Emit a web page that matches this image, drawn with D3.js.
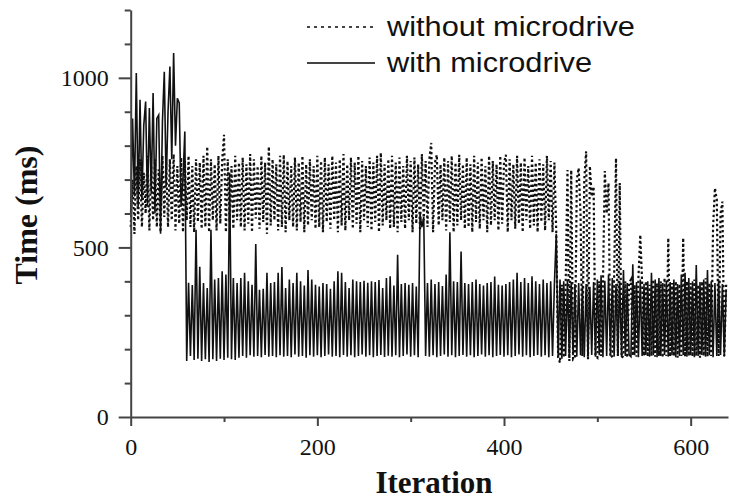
<!DOCTYPE html>
<html>
<head>
<meta charset="utf-8">
<script src="https://cdn.jsdelivr.net/npm/d3@7"></script>
<style>
  body { margin: 0; background: #fff; }
</style>
</head>
<body>
<svg id="chart" width="730" height="501"></svg>
<script>
// one value every 2 iterations (iteration = index * iterStep)
const iterStep = 2;

const withMicrodrive = [
  600, 880, 650, 1014, 620, 935, 640, 860, 930, 620, 911, 660, 955, 600, 880, 890, 540, 870, 1018, 680,
  900, 1033, 760, 1073, 800, 940, 926, 620, 700, 842, 165, 396, 180, 389, 168, 552, 172, 443, 165, 395,
  170, 380, 162, 552, 170, 405, 165, 410, 172, 430, 168, 420, 175, 720, 170, 410, 168, 395, 175, 410,
  180, 425, 175, 400, 182, 390, 178, 510, 180, 375, 176, 378, 183, 425, 178, 395, 180, 398, 176, 425,
  182, 442, 178, 380, 180, 405, 176, 395, 184, 425, 178, 400, 180, 388, 175, 433, 182, 405, 178, 390,
  182, 385, 176, 395, 180, 392, 184, 378, 178, 400, 180, 430, 176, 425, 183, 398, 178, 380, 182, 405,
  176, 400, 180, 398, 184, 402, 178, 396, 182, 400, 176, 398, 180, 404, 183, 380, 177, 410, 181, 415,
  178, 388, 182, 478, 176, 392, 180, 395, 184, 390, 178, 395, 182, 385, 176, 600, 560, 590, 180, 395,
  178, 405, 182, 392, 176, 398, 180, 386, 184, 420, 178, 545, 182, 400, 176, 398, 180, 488, 183, 395,
  178, 392, 182, 398, 176, 405, 180, 392, 184, 388, 178, 395, 182, 398, 176, 414, 180, 390, 183, 388,
  178, 392, 182, 398, 176, 405, 180, 425, 184, 398, 178, 410, 182, 395, 176, 415, 180, 400, 183, 392,
  178, 405, 182, 395, 176, 400, 180, 392, 540, 178, 405, 172, 400, 180, 405, 176, 398, 182, 392, 178,
  395, 182, 388, 176, 392, 180, 384, 183, 398, 178, 405, 182, 418, 176, 402, 180, 420, 183, 410, 178,
  392, 182, 400, 176, 433, 180, 395, 183, 178, 450, 182, 398, 176, 405, 180, 392, 183, 400, 178, 425,
  182, 405, 176, 410, 180, 395, 183, 402, 178, 398, 182, 405, 176, 392, 180, 420, 183, 425, 178, 410,
  182, 400, 176, 448, 180, 398, 183, 405, 178, 433, 182, 400, 176, 395, 180, 405, 183, 392, 178, 375
];

const withoutMicrodrive = [
  560, 700, 540, 740, 580, 760, 560, 720, 600, 770, 550, 740, 580, 760, 560, 730, 545, 770, 590, 750,
  560, 760, 580, 775, 550, 740, 570, 765, 545, 755, 580, 770, 560, 740, 545, 760, 575, 750, 555, 770,
  560, 797, 545, 760, 580, 745, 550, 770, 570, 755, 832, 545, 760, 575, 740, 555, 770, 580, 750, 560,
  765, 550, 745, 570, 775, 545, 760, 585, 740, 555, 770, 575, 750, 540, 797, 565, 760, 580, 745, 550,
  770, 560, 773, 545, 755, 580, 740, 560, 765, 550, 750, 575, 770, 545, 745, 565, 760, 580, 740, 555,
  770, 560, 755, 545, 765, 575, 745, 555, 770, 580, 750, 545, 760, 565, 775, 550, 745, 580, 765, 555,
  750, 570, 770, 545, 755, 580, 740, 560, 765, 550, 750, 575, 770, 545, 779, 565, 745, 580, 760, 555,
  770, 560, 750, 545, 765, 575, 740, 555, 770, 580, 755, 545, 765, 570, 745, 550, 775, 580, 755, 560,
  760, 808, 545, 750, 773, 565, 745, 580, 765, 550, 755, 575, 770, 545, 750, 565, 773, 580, 745, 555,
  765, 560, 745, 545, 770, 575, 750, 555, 765, 580, 740, 545, 770, 565, 755, 580, 745, 550, 770, 570,
  750, 773, 545, 760, 580, 745, 555, 770, 570, 750, 545, 765, 580, 740, 555, 770, 565, 750, 545, 760,
  575, 745, 550, 770, 580, 755, 545, 750, 540, 175, 160, 390, 175, 380, 728, 165, 728, 170, 175, 700,
  734, 600, 180, 700, 783, 170, 740, 650, 679, 180, 175, 400, 180, 395, 725, 600, 690, 175, 180, 410,
  763, 180, 690, 175, 180, 400, 175, 395, 405, 180, 390, 178, 410, 537, 395, 180, 400, 178, 390, 180,
  405, 178, 395, 180, 400, 175, 410, 180, 528, 178, 395, 180, 400, 175, 392, 180, 528, 178, 400, 180,
  395, 178, 405, 180, 390, 175, 400, 180, 410, 178, 395, 180, 560, 675, 640, 180, 600, 635, 180, 390
];

const xTicks = [0, 200, 400, 600];
const xMinorTicks = [100, 300, 500];
const yTicks = [0, 500, 1000];
const yMinorTicks = [100, 200, 300, 400, 600, 700, 800, 900, 1100, 1200];
const legendLabels = ["without microdrive", "with microdrive"];

const svg = d3.select("#chart");

const x = d3.scaleLinear().domain([0, 640]).range([130.7, 728]);
const y = d3.scaleLinear().domain([0, 1200]).range([417, 10]);

const line = d3.line()
    .x((d, i) => x(i * iterStep))
    .y(d => y(d));

// dotted series first, solid on top
svg.append("path")
    .datum(withoutMicrodrive)
    .attr("d", line)
    .attr("fill", "none")
    .attr("stroke", "#111")
    .attr("stroke-width", 2.2)
    .attr("stroke-dasharray", "2.4,2.6");

svg.append("path")
    .datum(withMicrodrive)
    .attr("d", line)
    .attr("fill", "none")
    .attr("stroke", "#111")
    .attr("stroke-width", 1.6);

// axes
const axisColor = "#444";

function styleAxis(g) {
    g.select(".domain").attr("stroke", axisColor).attr("stroke-width", 2);
    g.selectAll(".tick line").attr("stroke", axisColor).attr("stroke-width", 2);
    g.selectAll(".tick text")
        .attr("fill", "#111")
        .style("font-family", "'Liberation Serif', 'Times New Roman', serif")
        .style("font-size", "24px");
}

svg.append("g")
    .attr("transform", "translate(0," + y(0) + ")")
    .call(d3.axisBottom(x).tickValues(xMinorTicks).tickSize(5).tickSizeOuter(0).tickFormat(""))
    .call(g => g.select(".domain").remove())
    .call(styleAxis);

svg.append("g")
    .attr("transform", "translate(0," + y(0) + ")")
    .call(d3.axisBottom(x).tickValues(xTicks).tickSize(9).tickSizeOuter(0).tickPadding(12).tickFormat(d3.format("d")))
    .call(styleAxis);

svg.append("g")
    .attr("transform", "translate(" + x(0) + ",0)")
    .call(d3.axisLeft(y).tickValues(yMinorTicks).tickSize(6).tickSizeOuter(0).tickFormat(""))
    .call(g => g.select(".domain").remove())
    .call(styleAxis);

svg.append("g")
    .attr("transform", "translate(" + x(0) + ",0)")
    .call(d3.axisLeft(y).tickValues(yTicks).tickSize(12).tickSizeOuter(0).tickPadding(10).tickFormat(d3.format("d")))
    .call(styleAxis);

// axis titles
svg.append("text")
    .attr("x", 434)
    .attr("y", 493)
    .attr("text-anchor", "middle")
    .style("font-family", "'Liberation Serif', 'Times New Roman', serif")
    .style("font-weight", "bold")
    .style("font-size", "31px")
    .attr("fill", "#111")
    .text("Iteration");

svg.append("text")
    .attr("transform", "translate(37,215) rotate(-90)")
    .attr("text-anchor", "middle")
    .style("font-family", "'Liberation Serif', 'Times New Roman', serif")
    .style("font-weight", "bold")
    .style("font-size", "32px")
    .attr("fill", "#111")
    .text("Time (ms)");

// legend
const legend = svg.append("g");
const legendRows = [
    {label: legendLabels[0], dash: "3,4", y: 27, text: 36, len: 248},
    {label: legendLabels[1], dash: null, y: 63, text: 72, len: 205}
];

legendRows.forEach(r => {
    legend.append("line")
        .attr("x1", 307).attr("x2", 375)
        .attr("y1", r.y).attr("y2", r.y)
        .attr("stroke", "#444")
        .attr("stroke-width", 2)
        .attr("stroke-dasharray", r.dash);
    legend.append("text")
        .attr("x", 387)
        .attr("y", r.text)
        .attr("textLength", r.len)
        .attr("lengthAdjust", "spacingAndGlyphs")
        .style("font-family", "'Liberation Sans', Arial, sans-serif")
        .style("font-size", "27px")
        .attr("fill", "#111")
        .text(r.label);
});
</script>
</body>
</html>
